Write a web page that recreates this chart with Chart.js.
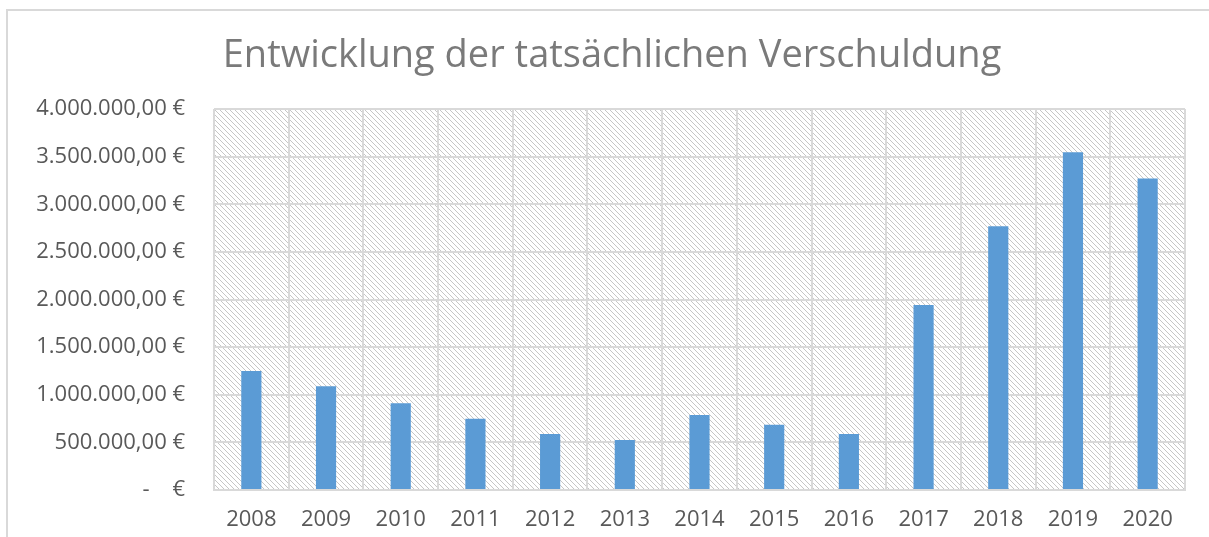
<!DOCTYPE html>
<html lang="de">
<head>
<meta charset="utf-8">
<title>Entwicklung der tatsächlichen Verschuldung</title>
<script src="https://cdn.jsdelivr.net/npm/chart.js"></script>
<style>
  html, body { margin: 0; padding: 0; background: #fff; }
  #wrap { position: relative; width: 1209px; height: 537px; }
</style>
</head>
<body>
<div id="wrap"><canvas id="chart" width="1209" height="537"></canvas></div>
<script>
// === DATEN ===
const jahre = ['2008', '2009', '2010', '2011', '2012', '2013', '2014', '2015', '2016', '2017', '2018', '2019', '2020'];
const verschuldung = [1250000, 1089000, 911000, 749000, 588000, 525000, 788000, 686000, 588000, 1943000, 2770000, 3547000, 3270000];
const yTicks = [0, 500000, 1000000, 1500000, 2000000, 2500000, 3000000, 3500000, 4000000];
const titel = 'Entwicklung der tatsächlichen Verschuldung';

const schrift = '"Open Sans", Lato, sans-serif';

// Betrag im Excel-Buchhaltungsformat
function euro(v) {
  if (v === 0) return '-    €';
  const ganz = Math.round(v).toString().replace(/\B(?=(\d{3})+(?!\d))/g, '.');
  return ganz + ',00 €';
}

// Schraffur für den Zeichnungsbereich
function schraffur() {
  const p = 5;
  const c = document.createElement('canvas');
  c.width = p; c.height = p;
  const g = c.getContext('2d');
  g.fillStyle = '#ffffff';
  g.fillRect(0, 0, p, p);
  g.fillStyle = '#c6c6c6';
  for (let i = 0; i < p; i++) g.fillRect(i, i, 1, 1);
  return c;
}

const hintergrund = {
  id: 'hintergrund',
  beforeDraw(chart) {
    const { ctx, chartArea: a } = chart;
    ctx.save();
    // Rahmen des Diagramms
    ctx.strokeStyle = '#d9d9d9';
    ctx.lineWidth = 2;
    ctx.beginPath();
    ctx.moveTo(7, chart.height);
    ctx.lineTo(7, 10);
    ctx.lineTo(chart.width, 10);
    ctx.stroke();
    // Schraffur
    ctx.fillStyle = ctx.createPattern(schraffur(), 'repeat');
    ctx.fillRect(a.left, a.top, a.right - a.left, a.bottom - a.top);
    // Titel (etwas rechts der Mitte, wie im Original)
    ctx.fillStyle = '#7a7a7a';
    ctx.font = '38px ' + schrift;
    ctx.textAlign = 'center';
    ctx.textBaseline = 'middle';
    ctx.fillText(titel, 612, 56);
    ctx.restore();
  }
};

const ctx = document.getElementById('chart').getContext('2d');
new Chart(ctx, {
  type: 'bar',
  data: {
    labels: jahre,
    datasets: [{
      label: 'Verschuldung',
      data: verschuldung,
      backgroundColor: '#5b9bd5',
      borderWidth: 0,
      barPercentage: 0.27,
      categoryPercentage: 1
    }]
  },
  options: {
    responsive: false,
    animation: false,
    layout: { padding: { top: 109, left: 10, right: 24, bottom: 0 } },
    plugins: {
      legend: { display: false },
      tooltip: { enabled: false },
      title: { display: false }
    },
    scales: {
      x: {
        afterFit(s) { s.height = 47; },
        grid: { color: '#d9d9d9', lineWidth: 2, drawTicks: false, offset: true },
        border: { color: '#d9d9d9', width: 2 },
        ticks: { color: '#595959', font: { family: schrift, size: 22 }, padding: 17 }
      },
      y: {
        min: 0,
        max: 4000000,
        afterBuildTicks(s) { s.ticks = yTicks.map(v => ({ value: v })); },
        afterFit(s) { s.width = 204; },
        grid: { color: '#d9d9d9', lineWidth: 2, drawTicks: false },
        border: { display: false },
        ticks: {
          color: '#595959',
          font: { family: schrift, size: 22 },
          padding: 29,
          callback: v => euro(v)
        }
      }
    }
  },
  plugins: [hintergrund]
});
</script>
</body>
</html>
